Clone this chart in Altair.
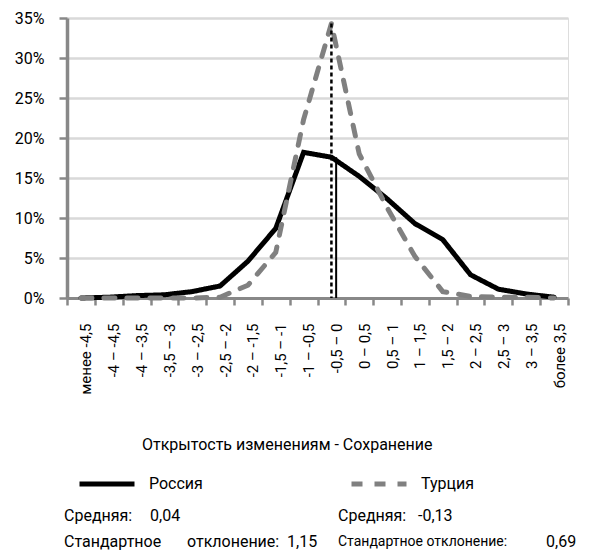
import altair as alt
import pandas as pd

categories = ["менее  -4,5", "-4 – -4,5", "-4 – -3,5", "-3,5 – -3", "-3 – -2,5",
              "-2,5 – -2", "-2 – -1,5", "-1,5 – -1", "-1 – -0,5", "-0,5 – 0",
              "0 – 0,5", "0,5 – 1", "1 – 1,5", "1,5 – 2", "2 – 2,5", "2,5 – 3",
              "3 – 3,5", "более 3,5"]
russia = [0.0, 0.1, 0.3, 0.4, 0.8, 1.5, 4.6, 8.7, 18.2, 17.6, 15.2, 12.4, 9.3,
          7.3, 2.9, 1.1, 0.5, 0.1]
turkey = [0.0, 0.0, 0.0, 0.0, 0.0, 0.1, 1.6, 5.7, 22.3, 34.3, 18.0, 11.3, 5.2,
          0.8, 0.2, 0.1, 0.1, 0.0]
series_names = ["Россия", "Турция"]
mean_category = "-0,5 – 0"
turkey_mean_top = 34.3
russia_mean_top = 17.6

FONT = "Roboto"

rows = []
for c, r, t in zip(categories, russia, turkey):
    rows.append({"cat": c, "series": "Россия", "value": r / 100})
    rows.append({"cat": c, "series": "Турция", "value": t / 100})
df = pd.DataFrame(rows)

xscale = alt.Scale(type="band", domain=categories, paddingInner=0, paddingOuter=0)
xaxis = alt.Axis(title=None, labelAngle=-90, labelFont=FONT, labelFontSize=15,
                 labelColor="#000", tickBand="extent", tickSize=7,
                 tickColor="#888", tickWidth=2.5, domainColor="#888",
                 domainWidth=3, labelPadding=18, labelOffset=5, grid=False,
                 labelOverlap=False)
yscale = alt.Scale(domain=[0, 0.35], nice=False)
yaxis = alt.Axis(title=None, format=".0%", values=[0, .05, .1, .15, .2, .25, .3, .35],
                 labelFont=FONT, labelFontSize=16, labelColor="#000", tickSize=8,
                 tickColor="#888", tickWidth=2.5, domainColor="#888", domainWidth=3.5,
                 labelPadding=15, gridColor="#d9d9d9", gridWidth=2.5, labelOverlap=False)

leg = alt.Legend(title=None, orient="none", legendX=10, legendY=436,
                 direction="horizontal", symbolType="stroke",
                 symbolSize=3025, symbolStrokeWidth=5,
                 labelFont=FONT, labelFontSize=16, labelColor="#000",
                 labelOffset=12, columnPadding=138)

lines = alt.Chart(df).mark_line(strokeWidth=5, strokeCap="round", strokeJoin="miter").encode(
    x=alt.X("cat:N", sort=categories, bandPosition=0.5, scale=xscale, axis=xaxis),
    y=alt.Y("value:Q", scale=yscale, axis=yaxis),
    color=alt.Color("series:N", scale=alt.Scale(domain=series_names, range=["#000000", "#808080"]),
                    legend=leg),
    strokeDash=alt.StrokeDash("series:N",
                              scale=alt.Scale(domain=series_names, range=[[1, 0], [11, 12]]),
                              legend=leg),
    order=alt.Order("series:N"),
)

mean_df_t = pd.DataFrame({"cat": [mean_category], "top": [turkey_mean_top / 100], "bottom": [0.0]})
mean_df_r = pd.DataFrame({"cat": [mean_category], "top": [russia_mean_top / 100], "bottom": [0.0]})

turkey_mean = alt.Chart(mean_df_t).mark_rule(color="#000", strokeWidth=2.5, strokeDash=[4, 3]).encode(
    x=alt.X("cat:N", sort=categories, bandPosition=0.5, scale=xscale, axis=xaxis),
    y=alt.Y("top:Q", scale=yscale, axis=yaxis), y2="bottom:Q")
russia_mean = alt.Chart(mean_df_r).mark_rule(color="#000", strokeWidth=2).encode(
    x=alt.X("cat:N", sort=categories, bandPosition=0.67, scale=xscale, axis=xaxis),
    y=alt.Y("top:Q", scale=yscale, axis=yaxis), y2="bottom:Q")


def label(text, x, y, size=16):
    return alt.Chart(pd.DataFrame({"t": [text]})).mark_text(
        font=FONT, fontSize=size, color="#000", align="left", baseline="middle").encode(
        text="t:N", x=alt.value(x), y=alt.value(y))


texts = [
    label("Открытость изменениям - Сохранение", 75, 427, 16),
    label("Средняя:", -3, 498),
    label("0,04", 83, 498),
    label("Стандартное", -3, 524),
    label("отклонение:", 120, 524),
    label("1,15", 220, 524),
    label("Средняя:", 271, 498),
    label("-0,13", 351, 498),
    label("Стандартное отклонение:", 271, 524, 14),
    label("0,69", 479, 524),
]

chart = alt.layer(lines, turkey_mean, russia_mean, *texts).properties(
    width=501, height=280,
    padding={"left": 59, "top": 10, "right": 13, "bottom": 252},
    autosize=alt.AutoSizeParams(type="none"),
).configure_view(stroke=None).configure(font=FONT)

chart.save("out.html", embed_options={"renderer": "svg", "actions": False})
